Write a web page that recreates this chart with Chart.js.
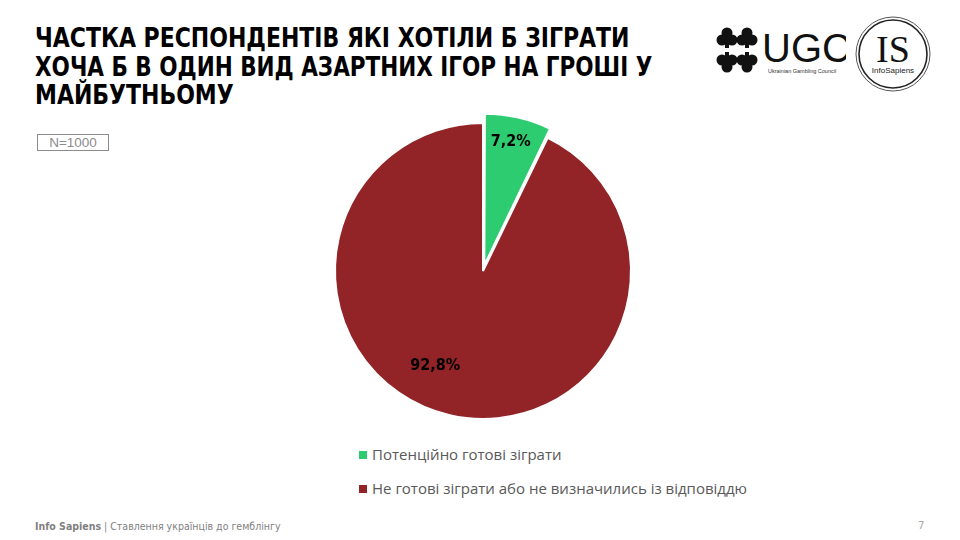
<!DOCTYPE html>
<html lang="uk">
  <head>
    <meta charset="utf-8" />
    <title>Частка респондентів</title>
    <script src="https://cdn.jsdelivr.net/npm/chart.js@4.4.1/dist/chart.umd.min.js"></script>
    <style>
      * { margin: 0; padding: 0; box-sizing: border-box; }
      body { width: 960px; height: 540px; background: #fff; position: relative; overflow: hidden; font-family: "DejaVu Sans", sans-serif; }
      h1 {
        position: absolute; left: 35px; top: 24px; width: 700px; white-space: nowrap;
        font-family: "DejaVu Sans Condensed", sans-serif;
        font-stretch: condensed; font-weight: bold; font-size: 26px; line-height: 28.5px; color: #000;
      }
      h1 span { display: block; transform-origin: left top; transform: scaleX(0.94); }
      h1 span.l2 { transform: scaleX(0.92); }
      .n-box {
        position: absolute; left: 37px; top: 134px; width: 72px; height: 17px;
        border: 1px solid #8c8c8c; color: #8c8c8c; font-size: 13.5px; line-height: 15px; text-align: center;
        font-family: "Liberation Sans", sans-serif;
      }
      #wrap { position: absolute; left: 313px; top: 101px; width: 340px; height: 340px; }
      #legend { position: absolute; left: 359px; top: 444px; list-style: none; }
      #legend li { height: 34px; font-family: "Open Sans", sans-serif; font-size: 15px; color: #595959; display: flex; align-items: flex-start; }
      #legend span.sw { width: 8px; height: 8px; margin: 7px 5px 0 0; display: inline-block; }
      .footer { position: absolute; left: 35px; top: 520px; font-size: 10.5px; color: #7f7f7f; font-family: "DejaVu Sans Condensed", sans-serif; font-stretch: condensed; }
      .page { position: absolute; left: 918px; top: 520px; font-size: 10px; color: #a6a6a6; }
      .ugc { position: absolute; left: 716px; top: 26px; }
      .is { position: absolute; left: 854px; top: 15px; }
    </style>
  </head>
  <body>
    <h1><span>ЧАСТКА РЕСПОНДЕНТІВ ЯКІ ХОТІЛИ Б ЗІГРАТИ</span><span class="l2">ХОЧА Б В ОДИН ВИД АЗАРТНИХ ІГОР НА ГРОШІ У</span><span>МАЙБУТНЬОМУ</span></h1>
    <div class="n-box">N=1000</div>

    <svg class="ugc" width="130" height="54" viewBox="0 0 130 54">
      <g fill="#111">
        <g transform="translate(11,12)"><circle cx="0" cy="-5" r="5.5"/><circle cx="-5" cy="2" r="5.5"/><circle cx="5" cy="2" r="5.5"/><rect x="-2" y="0" width="4" height="10"/></g>
        <g transform="translate(31,12)"><circle cx="0" cy="-5" r="5.5"/><circle cx="-5" cy="2" r="5.5"/><circle cx="5" cy="2" r="5.5"/><rect x="-2" y="0" width="4" height="10"/></g>
        <g transform="translate(11,36) rotate(180)"><circle cx="0" cy="-5" r="5.5"/><circle cx="-5" cy="2" r="5.5"/><circle cx="5" cy="2" r="5.5"/><rect x="-2" y="0" width="4" height="10"/></g>
        <g transform="translate(31,36) rotate(180)"><circle cx="0" cy="-5" r="5.5"/><circle cx="-5" cy="2" r="5.5"/><circle cx="5" cy="2" r="5.5"/><rect x="-2" y="0" width="4" height="10"/></g>
      </g>
      <text x="46" y="36" font-family="Liberation Sans, sans-serif" font-size="40" fill="#111">UGC</text>
      <text x="52" y="47" font-family="Liberation Sans, sans-serif" font-size="5.5" fill="#333">Ukrainian Gambling Council</text>
    </svg>

    <svg class="is" width="80" height="80" viewBox="0 0 80 80">
      <circle cx="39" cy="39" r="37" fill="none" stroke="#555" stroke-width="1"/>
      <circle cx="39" cy="39" r="34" fill="none" stroke="#222" stroke-width="1.6"/>
      <text x="39" y="47" text-anchor="middle" font-family="Liberation Serif, serif" font-size="38" fill="#111">IS</text>
      <text x="39" y="58" text-anchor="middle" font-family="Liberation Sans, sans-serif" font-size="8" fill="#222">InfoSapiens</text>
    </svg>

    <div id="wrap"><canvas id="pie"></canvas></div>
    <ul id="legend"></ul>

    <div class="footer"><b>Info Sapiens</b> | Ставлення українців до гемблінгу</div>
    <div class="page">7</div>

    <script>
      // Data
      const labels = ["Потенційно готові зіграти", "Не готові зіграти або не визначились із відповіддю"];
      const values = [7.2, 92.8];
      const sliceColors = ["#2ecc71", "#922428"];

      // value labels drawn inside slices
      const sliceLabels = {
        id: "sliceLabels",
        afterDatasetsDraw(chart, args, opts) {
          const ctx = chart.ctx;
          const meta = chart.getDatasetMeta(0);
          ctx.save();
          ctx.font = "bold 16px 'DejaVu Sans Condensed', 'DejaVu Sans', sans-serif";
          ctx.fillStyle = "#000";
          ctx.textAlign = "center";
          ctx.textBaseline = "middle";
          meta.data.forEach((arc, i) => {
            const p = arc.getProps(["x", "y", "startAngle", "endAngle", "outerRadius"], true);
            const mid = (p.startAngle + p.endAngle) / 2 + opts.angleShift[i];
            // chart.js moves an arc out by a quarter of its offset
            const off = (chart.data.datasets[0].offset[i] || 0) / 4;
            const r = p.outerRadius * opts.radiusFrac[i] + off;
            const x = p.x + Math.cos(mid) * r;
            const y = p.y + Math.sin(mid) * r;
            const txt = values[i].toFixed(1).replace(".", ",") + "%";
            ctx.fillText(txt, x, y);
          });
          ctx.restore();
        },
      };

      const chart = new Chart(document.getElementById("pie"), {
        type: "pie",
        data: {
          labels: labels,
          datasets: [{
            data: values,
            backgroundColor: sliceColors,
            borderColor: "#ffffff",
            borderWidth: 2,
            offset: [24, 0],
            radius: 148,
          }],
        },
        plugins: [sliceLabels],
        options: {
          responsive: true,
          maintainAspectRatio: false,
          animation: false,
          layout: { padding: 0 },
          plugins: {
            legend: { display: false },
            tooltip: { enabled: false },
            sliceLabels: { radiusFrac: [0.85, 0.72], angleShift: [-0.015, 0.24] },
          },
        },
      });

      // HTML legend from the same arrays
      const legendEl = document.getElementById("legend");
      labels.forEach((l, i) => {
        const li = document.createElement("li");
        li.innerHTML = `<span class="sw" style="background:${sliceColors[i]}"></span>${l}`;
        legendEl.appendChild(li);
      });
    </script>
  </body>
</html>
